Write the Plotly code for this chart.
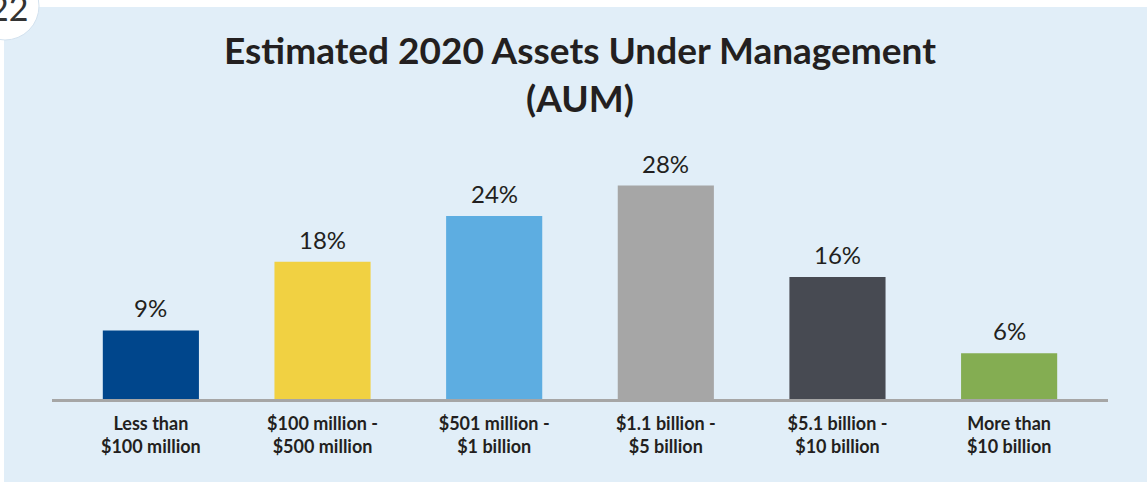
import plotly.graph_objects as go

categories = ["Less than<br>$100 million", "$100 million -<br>$500 million",
              "$501 million -<br>$1 billion", "$1.1 billion -<br>$5 billion",
              "$5.1 billion -<br>$10 billion", "More than<br>$10 billion"]
values = [9, 18, 24, 28, 16, 6]
labels = ["9%", "18%", "24%", "28%", "16%", "6%"]
colors = ["#00468c", "#f1d142", "#5dade1", "#a6a6a6", "#474a52", "#84ad52"]

W, H = 1147, 482
ML, MR, MT, MB = 52, 39, 155, 83
PW, PH = W - ML - MR, H - MT - MB
BG = "#e1eef8"
TXT = "#231f20"


def px(x):
    return (x - ML) / PW


def py(y):
    return (H - MB - y) / PH


xs = list(range(len(categories)))
fig = go.Figure()
fig.add_trace(go.Bar(x=xs, y=values, marker=dict(color=colors, line=dict(width=0)),
                     width=0.56, hoverinfo="skip"))

for x, v, t in zip(xs, values, labels):
    fig.add_annotation(x=x, y=v, text=t, showarrow=False, yanchor="bottom", yshift=6,
                       font=dict(family="Lato", size=24, color=TXT))

# white frame strips and page badge
fig.add_shape(type="rect", xref="paper", yref="paper", x0=px(0), x1=px(W), y0=py(7), y1=py(0),
              fillcolor="white", line=dict(width=0), layer="below")
fig.add_shape(type="rect", xref="paper", yref="paper", x0=px(0), x1=px(4), y0=py(H), y1=py(0),
              fillcolor="white", line=dict(width=0), layer="below")
fig.add_shape(type="circle", xref="paper", yref="paper", x0=px(5 - 34), x1=px(5 + 34),
              y0=py(6 + 34), y1=py(6 - 34), fillcolor="white",
              line=dict(color="#d3e2ef", width=1))
fig.add_annotation(xref="paper", yref="paper", x=px(8), y=py(30), text="22", showarrow=False,
                   xanchor="center", yanchor="bottom",
                   font=dict(family="Lato", size=34, color="#333333"))

fig.update_layout(
    width=W, height=H,
    margin=dict(l=ML, r=MR, t=MT, b=MB, pad=0),
    paper_bgcolor=BG, plot_bgcolor=BG,
    showlegend=False,
    title=dict(text="<b>Estimated 2020 Assets Under Management<br>(AUM)</b>",
               x=0.5, xref="paper", xanchor="center",
               y=1 - 64 / H, yref="container", yanchor="top",
               font=dict(family="Lato", size=37, color=TXT)),
    xaxis=dict(tickmode="array", tickvals=xs, ticktext=[f"<b>{c}</b>" for c in categories],
               range=[-0.576, 5.576], showgrid=False, zeroline=False,
               showline=True, linecolor="#a6a6a6", linewidth=3, ticks="",
               ticklabelstandoff=6,
               tickfont=dict(family="Lato", size=18, color=TXT), fixedrange=True),
    yaxis=dict(range=[0, 32], visible=False, fixedrange=True),
)

fig.write_html("out.html", config={"displayModeBar": False},
               post_script="document.body.style.margin='0';")
